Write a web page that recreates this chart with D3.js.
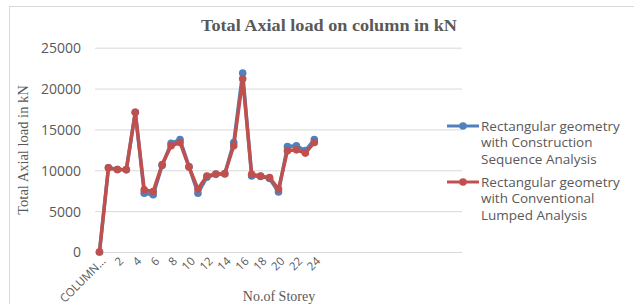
<!DOCTYPE html>
<html><head><meta charset="utf-8">
<script src="https://cdn.jsdelivr.net/npm/d3@7"></script>
<style>body{margin:0;background:#fff}svg{display:block}</style>
</head><body>
<svg id="c" width="634" height="304"></svg>
<script>
const categories = ["COLUMN NO", "1","2","3","4","5","6","7","8","9","10","11","12","13","14","15","16","17","18","19","20","21","22","23","24"];
const constructionSeq = [0,10300,10100,10050,17100,7200,7000,10600,13300,13750,10450,7200,9150,9500,9550,13400,21900,9300,9250,9000,7350,12900,13000,12400,13750];
const conventional = [0,10300,10100,10100,17100,7600,7400,10700,13000,13400,10400,7700,9300,9550,9600,13000,21200,9500,9300,9100,7700,12400,12500,12100,13400];
const yTicks = [0,5000,10000,15000,20000,25000];
const seriesNames = ["Rectangular geometry with Construction Sequence Analysis","Rectangular geometry with Conventional Lumped Analysis"];
const colors = ["#4f81bd","#c0504d"];
const slots = 41;

const svg = d3.select("#c");
const grey = "#595959";
// outer frame
svg.append("rect").attr("x",9.5).attr("y",6.5).attr("width",640).attr("height",310)
  .attr("fill","none").attr("stroke","#d9d9d9");

const x = d3.scaleLinear().domain([-0.5, slots-0.5]).range([95,462]);
const y = d3.scaleLinear().domain([0,25000]).range([252,47.7]);

// gridlines
const yAxis = d3.axisLeft(y).tickValues(yTicks).tickSize(-(462-95)).tickPadding(14).tickFormat(d3.format("d"));
const ga = svg.append("g").attr("transform","translate(95,0)").call(yAxis);
ga.select(".domain").remove();
ga.selectAll(".tick line").attr("stroke","#d9d9d9");
ga.selectAll(".tick text").attr("fill",grey).attr("font-family","Open Sans").attr("font-size",14).attr("dy","0.35em");

// x labels
const xl = svg.append("g");
categories.forEach((c,i)=>{
  if(i%2) return;
  const lab = i===0 ? "COLUMN..." : c;
  xl.append("text").attr("transform",`translate(${x(i)+4},${259}) rotate(-45)`)
    .attr("text-anchor","end").attr("dy","0.35em").attr("fill",grey)
    .attr("font-family","Open Sans").attr("font-size",11.5).text(lab);
});

// lines
const line = d3.line().x((d,i)=>x(i)).y(d=>y(d));
[constructionSeq, conventional].forEach((s,k)=>{
  svg.append("path").datum(s).attr("d",line).attr("fill","none")
    .attr("stroke",colors[k]).attr("stroke-width",3.5).attr("stroke-linejoin","round");
  svg.append("g").selectAll("circle").data(s).join("circle")
    .attr("cx",(d,i)=>x(i)).attr("cy",d=>y(d)).attr("r",3.8).attr("fill",colors[k]);
});

// titles
svg.append("text").attr("x",201).attr("y",25).attr("dy","0.35em")
  .attr("textLength",256).attr("lengthAdjust","spacingAndGlyphs")
  .attr("font-family","Liberation Serif").attr("font-weight","bold").attr("font-size",16.5).attr("fill",grey)
  .text("Total Axial load on column in kN");
svg.append("text").attr("transform","translate(23,150) rotate(-90)").attr("dy","0.35em").attr("text-anchor","middle")
  .attr("font-family","Liberation Serif").attr("font-size",14.5).attr("fill",grey)
  .text("Total Axial load in kN");
svg.append("text").attr("x",279).attr("y",296).attr("dy","0.35em").attr("text-anchor","middle")
  .attr("font-family","Liberation Serif").attr("font-size",14).attr("fill",grey)
  .text("No.of Storey");

// legend
const legLines = [["Rectangular geometry","with Construction","Sequence Analysis"],["Rectangular geometry","with Conventional","Lumped Analysis"]];
const legY = [126,182];
legLines.forEach((ls,k)=>{
  const g = svg.append("g");
  g.append("line").attr("x1",447).attr("x2",479).attr("y1",legY[k]).attr("y2",legY[k]).attr("stroke",colors[k]).attr("stroke-width",3);
  g.append("circle").attr("cx",463).attr("cy",legY[k]).attr("r",3.8).attr("fill",colors[k]);
  ls.forEach((t,j)=>{
    g.append("text").attr("x",481).attr("y",legY[k]+j*16.5).attr("dy","0.35em")
      .attr("font-family","Open Sans").attr("font-size",13.5).attr("fill",grey).text(t);
  });
});
</script>
</body></html>
